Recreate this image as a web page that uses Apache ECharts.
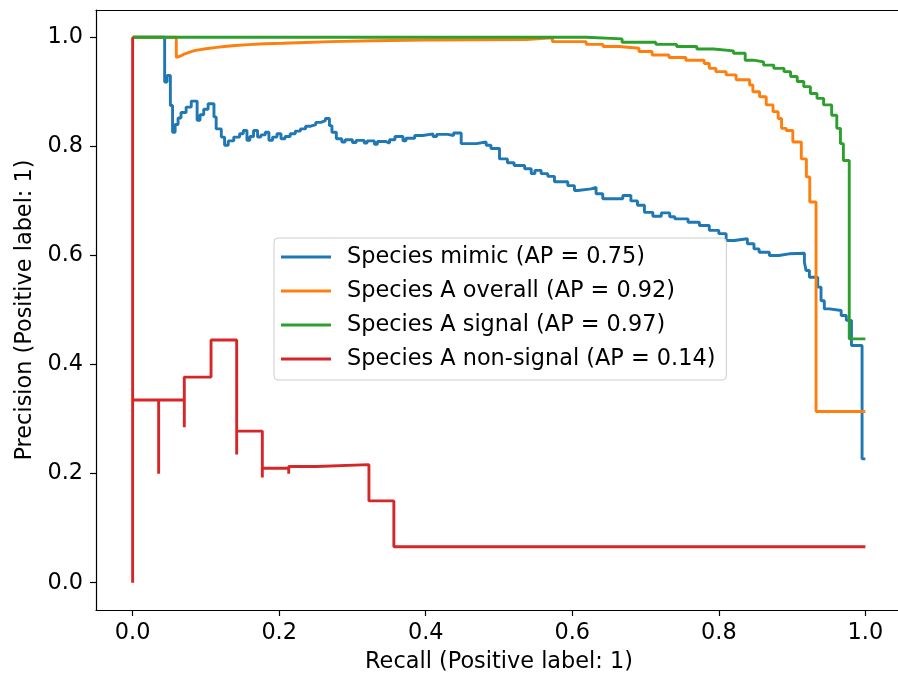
<!DOCTYPE html>
<html>
<head>
<meta charset="utf-8">
<title>Precision-Recall curves</title>
<script src="https://cdn.jsdelivr.net/npm/echarts@6/dist/echarts.min.js"></script>
<style>
  html, body { margin: 0; padding: 0; background: #fff; }
  #chart { width: 898px; height: 679px; }
</style>
</head>
<body>
<div id="chart"></div>
<script>
// tick labels
const tickValues = [0.0, 0.2, 0.4, 0.6, 0.8, 1.0];

const seriesNames = [
  "Species mimic (AP = 0.75)",
  "Species A overall (AP = 0.92)",
  "Species A signal (AP = 0.97)",
  "Species A non-signal (AP = 0.14)",
];

// each point = right end of a precision level (drawn with step 'start')
const mimicRecall = [0, 0.0437, 0.047, 0.0515, 0.0545, 0.058, 0.062, 0.066, 0.073, 0.08, 0.088,
  0.092, 0.097, 0.103, 0.111, 0.114, 0.121, 0.1255, 0.1305, 0.138, 0.146, 0.151, 0.156,
  0.16, 0.165, 0.1705, 0.175, 0.181, 0.186, 0.191, 0.197, 0.2025, 0.208, 0.215, 0.222,
  0.229, 0.236, 0.243, 0.25, 0.257, 0.263, 0.2686, 0.272, 0.278, 0.2855, 0.29, 0.3,
  0.305, 0.316, 0.32, 0.33, 0.334, 0.345, 0.3506, 0.358, 0.369, 0.373, 0.385, 0.396,
  0.41, 0.415, 0.43, 0.438, 0.4484, 0.469, 0.4825, 0.489, 0.5007, 0.5115, 0.5206, 0.535,
  0.544, 0.549, 0.5575, 0.5666, 0.5757, 0.5939, 0.603, 0.6075, 0.6257, 0.6325, 0.6416,
  0.653, 0.669, 0.68, 0.689, 0.6985, 0.71, 0.7215, 0.733, 0.74, 0.758, 0.7735, 0.787,
  0.8, 0.81, 0.821, 0.839, 0.848, 0.855, 0.869, 0.882, 0.896, 0.9168, 0.919, 0.9236,
  0.935, 0.9395, 0.944, 0.951, 0.967, 0.974, 0.981, 0.9955, 1.0];
const mimicPrecision = [1.0, 1.0, 0.918, 0.93, 0.875, 0.826, 0.84, 0.852, 0.862, 0.872, 0.883,
  0.848, 0.858, 0.868, 0.878, 0.854, 0.832, 0.817, 0.802, 0.81, 0.817, 0.823, 0.829,
  0.811, 0.818, 0.829, 0.817, 0.821, 0.826, 0.811, 0.817, 0.823, 0.814, 0.818, 0.823,
  0.828, 0.832, 0.837, 0.84, 0.844, 0.847, 0.851, 0.838, 0.826, 0.814, 0.808, 0.812,
  0.807, 0.811, 0.806, 0.81, 0.804, 0.809, 0.806, 0.812, 0.818, 0.81, 0.815, 0.82,
  0.823, 0.818, 0.822, 0.82, 0.8245, 0.805, 0.808, 0.802, 0.796, 0.777, 0.77, 0.765,
  0.759, 0.75, 0.756, 0.75, 0.745, 0.735, 0.728, 0.719, 0.722, 0.725, 0.713,
  0.704, 0.704, 0.71, 0.7, 0.692, 0.679, 0.672, 0.678, 0.671, 0.667, 0.661, 0.655,
  0.646, 0.64, 0.6275, 0.6306, 0.6215, 0.612, 0.606, 0.6, 0.603, 0.604, 0.588, 0.5725,
  0.56, 0.542, 0.517, 0.502, 0.499, 0.49, 0.481, 0.435, 0.227];

const overallRecall = [0, 0.0596, 0.062, 0.066, 0.07, 0.076, 0.083, 0.09, 0.1, 0.112, 0.125,
  0.14, 0.158, 0.18, 0.205, 0.235, 0.27, 0.33, 0.4, 0.537, 0.573, 0.619, 0.642, 0.664,
  0.691, 0.709, 0.732, 0.755, 0.78, 0.787, 0.796, 0.81, 0.8236, 0.842, 0.8465, 0.8556,
  0.8647, 0.874, 0.881, 0.8856, 0.892, 0.901, 0.9126, 0.9195, 0.9241, 0.9327, 1.0];
const overallPrecision = [1.0, 1.0, 0.963, 0.966, 0.969, 0.972, 0.975, 0.977, 0.979, 0.981, 0.983,
  0.985, 0.9865, 0.988, 0.989, 0.9905, 0.992, 0.9935, 0.995, 0.996, 0.999, 0.992, 0.987, 0.983,
  0.98, 0.974, 0.9675, 0.963, 0.958, 0.952, 0.943, 0.937, 0.931, 0.922, 0.9125, 0.9,
  0.891, 0.876, 0.8636, 0.851, 0.833, 0.829, 0.808, 0.777, 0.744, 0.698, 0.314];

const signalRecall = [0, 0.619, 0.668, 0.714, 0.7425, 0.77, 0.793, 0.82, 0.836, 0.8475, 0.861,
  0.875, 0.889, 0.898, 0.907, 0.916, 0.925, 0.934, 0.943, 0.954, 0.961, 0.966, 0.97, 0.978, 1.0];
const signalPrecision = [1.0, 1.0, 0.997, 0.991, 0.987, 0.983, 0.9785, 0.975, 0.9706, 0.958, 0.955,
  0.949, 0.943, 0.937, 0.928, 0.919, 0.9095, 0.897, 0.888, 0.876, 0.857, 0.833, 0.805, 0.774, 0.447];

const nonSignalRecall = [0, 0, 0.0355, 0.0355, 0.0705, 0.0705, 0.107, 0.142, 0.142, 0.177, 0.177,
  0.213, 0.213, 0.251, 0.3225, 0.3565, 1.0];
const nonSignalPrecision = [1.0, 0.0, 0.335, 0.2, 0.335, 0.285, 0.377, 0.445, 0.235, 0.278, 0.193,
  0.21, 0.2, 0.213, 0.2165, 0.15, 0.066];

const colors = ["#1f77b4", "#ff7f0e", "#2ca02c", "#d62728"];
const curves = [
  [mimicRecall, mimicPrecision],
  [overallRecall, overallPrecision],
  [signalRecall, signalPrecision],
  [nonSignalRecall, nonSignalPrecision],
];

const font = "DejaVu Sans";
const fontSize = 22.4;
const chart = echarts.init(document.getElementById("chart"));

const axisCommon = {
  type: "value",
  min: -0.05,
  max: 1.05,
  nameLocation: "middle",
  nameTextStyle: { color: "#000", fontFamily: font, fontSize: fontSize },
  axisLine: { onZero: false, lineStyle: { color: "#000", width: 1.2 } },
  axisTick: { length: 6, lineStyle: { color: "#000", width: 1.2 }, customValues: tickValues },
  axisLabel: {
    color: "#000",
    fontFamily: font,
    fontSize: fontSize,
    margin: 12,
    customValues: tickValues,
    formatter: (v) => v.toFixed(1),
  },
  splitLine: { show: false },
};

chart.setOption({
  animation: false,
  color: colors,
  grid: {
    left: 96,
    top: 10,
    width: 806,
    height: 600,
    containLabel: false,
    outerBoundsMode: "none",
  },
  xAxis: [
    { ...axisCommon, name: "Recall (Positive label: 1)", nameGap: 41 },
    // top spine only
    {
      type: "value",
      position: "top",
      min: -0.05,
      max: 1.05,
      axisLine: { onZero: false, lineStyle: { color: "#000", width: 1.2 } },
      axisTick: { show: false },
      axisLabel: { show: false },
      splitLine: { show: false },
    },
  ],
  yAxis: {
    ...axisCommon,
    name: "Precision (Positive label: 1)",
    nameGap: 60,
    nameRotate: 90,
    axisLabel: { ...axisCommon.axisLabel, margin: 13 },
  },
  legend: {
    orient: "vertical",
    left: 274,
    top: 238,
    selectedMode: false,
    icon: "rect",
    itemWidth: 50,
    itemHeight: 3,
    itemGap: 12,
    padding: [8, 11, 10, 7],
    backgroundColor: "rgba(255,255,255,0.8)",
    borderColor: "#cccccc",
    borderWidth: 1,
    borderRadius: 4,
    textStyle: {
      color: "#000",
      fontFamily: font,
      fontSize: fontSize,
      lineHeight: 22,
      padding: [0, 0, 0, 11],
    },
    data: seriesNames,
  },
  series: curves.map(([rec, prec], i) => ({
    name: seriesNames[i],
    type: "line",
    step: "start",
    showSymbol: false,
    symbol: "none",
    lineStyle: { width: 2.9, color: colors[i] },
    itemStyle: { color: colors[i] },
    data: rec.map((r, k) => [r, prec[k]]),
  })),
});
</script>
</body>
</html>
